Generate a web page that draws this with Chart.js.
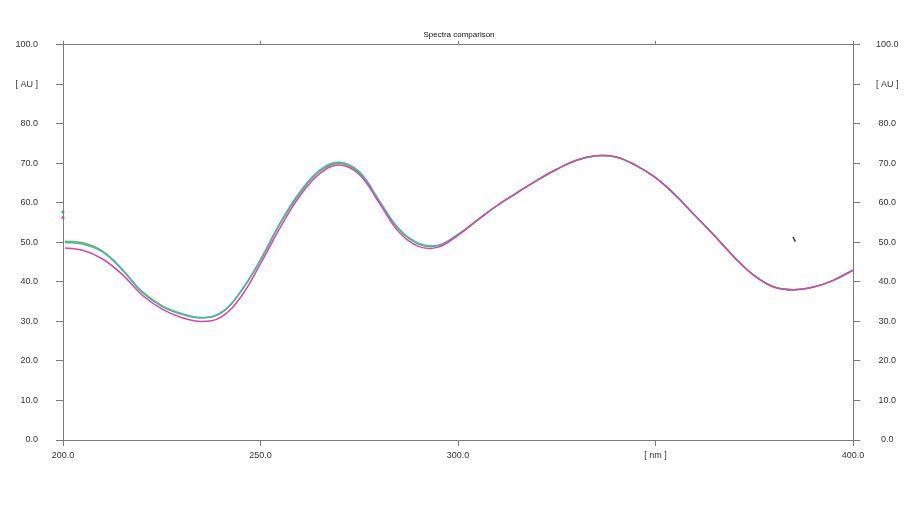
<!DOCTYPE html>
<html>
<head>
<meta charset="utf-8">
<script src="https://cdn.jsdelivr.net/npm/chart.js@4.4.1/dist/chart.umd.min.js"></script>
<style>
  html, body { margin: 0; padding: 0; background: #fff; }
  canvas { display: block; }
</style>
</head>
<body>
<canvas id="spectra" width="918" height="513"></canvas>
<script>
// wavelength grid [nm]
var wavelengths = [200.5, 205, 210, 215, 220, 225, 230, 235, 240, 245, 250, 255, 260, 265, 270, 275, 280, 285, 290, 295,
    300, 305, 310, 315, 320, 325, 330, 335, 340, 345, 350, 355, 360, 365, 370, 375, 380, 385, 390, 395, 400];

// absorbance [AU] per spectrum
var spectrumGreen = [50.3, 49.9, 47.8, 43.2, 37.6, 34.0, 32.0, 31.0, 32.2, 37.5, 45.5, 54.8, 62.5, 68.0, 70.0, 67.6, 60.5, 53.3, 49.6, 49.2,
    52.0, 55.7, 59.4, 62.6, 65.7, 68.5, 70.8, 71.9, 71.6, 69.5, 66.4, 62.0, 56.8, 51.6, 46.2, 41.6, 38.7, 38.0, 38.7, 40.4, 43.0];
var spectrumTeal = [50.0, 49.6, 47.6, 43.0, 37.4, 33.8, 31.8, 30.9, 32.1, 37.6, 45.7, 55.0, 62.8, 68.3, 70.3, 67.9, 60.7, 53.5, 49.8, 49.3,
    52.0, 55.7, 59.4, 62.6, 65.7, 68.5, 70.8, 71.9, 71.6, 69.5, 66.4, 62.0, 56.8, 51.6, 46.2, 41.6, 38.7, 38.0, 38.7, 40.4, 43.0];
var spectrumMagenta = [48.6, 48.0, 45.8, 41.9, 36.7, 33.2, 31.0, 30.0, 31.1, 36.2, 44.6, 53.8, 61.8, 67.4, 69.6, 67.2, 60.1, 52.7, 49.0, 48.8,
    51.8, 55.7, 59.4, 62.6, 65.7, 68.5, 70.8, 71.9, 71.6, 69.5, 66.4, 62.0, 56.8, 51.6, 46.2, 41.6, 38.7, 38.0, 38.7, 40.4, 43.0];

// first samples at 200 nm sit apart from the curves
var startGreen = 57.7;
var startMagenta = 56.3;

// small stray trace near 385 nm
var strayX = [384.8, 385.4];
var strayY = [51.4, 50.2];

var xTicks = [200, 250, 300, 350, 400];
var xTickLabels = ['200.0', '250.0', '300.0', '[ nm ]', '400.0'];
var yTicks = [0, 10, 20, 30, 40, 50, 60, 70, 80, 90, 100];
var yTickLabels = ['0.0', '10.0', '20.0', '30.0', '40.0', '50.0', '60.0', '70.0', '80.0', '[ AU ]', '100.0'];

function toPoints(xs, ys) {
    return xs.map((x, i) => ({x: x, y: ys[i]}));
}

function xLabel(value) {
    let i = xTicks.indexOf(value);
    return i < 0 ? '' : xTickLabels[i];
}

function yLabel(value) {
    let i = yTicks.indexOf(value);
    return i < 0 ? '' : yTickLabels[i];
}

const AXIS_COLOR = '#7a7a7a';
const TICK_FONT = {family: 'Liberation Sans, Arial, sans-serif', size: 9};

function lineSet(label, data, color, order) {
    return {
        label: label,
        data: toPoints(wavelengths, data),
        borderColor: color,
        backgroundColor: color,
        borderWidth: 1.5,
        pointRadius: 0,
        tension: 0.4,
        order: order
    };
}

function dotSet(label, y, color) {
    return {
        label: label,
        data: [{x: 200, y: y}],
        showLine: false,
        clip: false,
        pointRadius: 1.5,
        pointBorderWidth: 0,
        pointBackgroundColor: color,
        order: 4
    };
}

var config = {
    type: 'line',
    data: {
        datasets: [
            lineSet('Spectrum 3', spectrumMagenta, '#d944aa', 0),
            lineSet('Spectrum 2', spectrumTeal, '#5aaab8', 1),
            lineSet('Spectrum 1', spectrumGreen, '#3ccf3c', 2),
            {
                label: 'stray',
                data: toPoints(strayX, strayY),
                borderColor: '#2e3f7a',
                borderWidth: 1.5,
                pointRadius: 0,
                order: 3
            },
            dotSet('start 1', startGreen, '#2aa84a'),
            dotSet('start 3', startMagenta, '#d944aa')
        ]
    },
    options: {
        responsive: false,
        animation: false,
        layout: {padding: 0},
        scales: {
            x: {
                type: 'linear',
                position: 'bottom',
                min: 200,
                max: 400,
                afterFit: function (scale) { scale.height = 73; },
                afterBuildTicks: function (scale) { scale.ticks = xTicks.map(v => ({value: v})); },
                grid: {drawOnChartArea: false, tickLength: 6, color: AXIS_COLOR},
                border: {color: AXIS_COLOR, width: 1},
                ticks: {
                    color: '#333',
                    font: TICK_FONT,
                    padding: 4,
                    maxRotation: 0,
                    autoSkip: false,
                    callback: xLabel
                }
            },
            xTop: {
                type: 'linear',
                position: 'top',
                min: 200,
                max: 400,
                afterFit: function (scale) { scale.height = 5; },
                afterBuildTicks: function (scale) { scale.ticks = xTicks.map(v => ({value: v})); },
                grid: {drawOnChartArea: false, tickLength: 4, color: AXIS_COLOR},
                border: {color: AXIS_COLOR, width: 1},
                ticks: {display: false}
            },
            y: {
                type: 'linear',
                position: 'left',
                min: 0,
                max: 100,
                afterFit: function (scale) { scale.width = 63; },
                afterBuildTicks: function (scale) { scale.ticks = yTicks.map(v => ({value: v})); },
                grid: {drawOnChartArea: false, tickLength: 7, color: AXIS_COLOR},
                border: {color: AXIS_COLOR, width: 1},
                ticks: {
                    color: '#333',
                    font: TICK_FONT,
                    padding: 18,
                    autoSkip: false,
                    callback: yLabel
                }
            },
            yRight: {
                type: 'linear',
                position: 'right',
                min: 0,
                max: 100,
                afterFit: function (scale) { scale.width = 65; },
                afterBuildTicks: function (scale) { scale.ticks = yTicks.map(v => ({value: v})); },
                grid: {drawOnChartArea: false, tickLength: 7, color: AXIS_COLOR},
                border: {color: AXIS_COLOR, width: 1},
                ticks: {
                    color: '#333',
                    font: TICK_FONT,
                    padding: 16,
                    crossAlign: 'center',
                    autoSkip: false,
                    callback: yLabel
                }
            }
        },
        plugins: {
            legend: {display: false},
            tooltip: {enabled: false},
            title: {
                display: true,
                text: 'Spectra comparison',
                color: '#111',
                font: {family: 'Liberation Sans, Arial, sans-serif', size: 8, weight: 'normal', lineHeight: 1.2},
                padding: {top: 30.2, bottom: 0}
            }
        }
    }
};

var graphic = new Chart(document.getElementById('spectra'), config);
</script>
</body>
</html>
